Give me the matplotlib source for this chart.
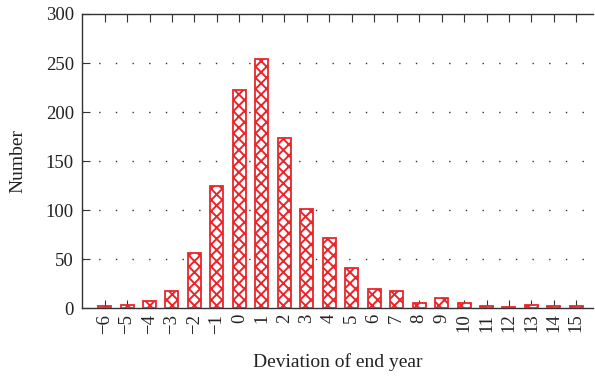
import matplotlib
matplotlib.use('Agg')
import matplotlib.pyplot as plt

# data
deviation = list(range(-6, 16))
counts = [2, 3, 7, 17, 56, 125, 222, 254, 174, 101, 71, 41, 19, 17, 5, 10, 5, 2, 1, 3, 2, 2]

plt.rcParams['font.family'] = ['Liberation Serif', 'DejaVu Serif']
plt.rcParams['hatch.color'] = '#e8262a'
plt.rcParams['hatch.linewidth'] = 1.4

fig = plt.figure(figsize=(5.95, 3.78), dpi=100)
ax = fig.add_axes([0.138, 0.185, 0.859, 0.778])

ax.bar(deviation, counts, width=0.58, facecolor='white', edgecolor='#e8262a',
       hatch='xxx', linewidth=1.3, zorder=3)

ax.set_xlim(-7, 15.75)
ax.set_ylim(0, 300)
ax.set_yticks([0, 50, 100, 150, 200, 250, 300])
ax.set_xticks(deviation)
ax.set_xticklabels([str(d).replace('-', '\u2212') for d in deviation], rotation=90)

# sparse dotted horizontal grid
for y in [50, 100, 150, 200, 250]:
    ax.axhline(y, color='#333333', linestyle=(0, (1, 11)), linewidth=1.0, zorder=1)

ax.spines['right'].set_visible(False)
for s in ['left', 'top', 'bottom']:
    ax.spines[s].set_color('#333333')
    ax.spines[s].set_linewidth(1.0)
ax.tick_params(axis='both', direction='in', length=6, labelsize=13.5, colors='#333333',
               labelcolor='#222222')
ax.tick_params(axis='x', top=True, pad=4)
ax.tick_params(axis='y', pad=6)

ax.set_xlabel('Deviation of end year', fontsize=14, labelpad=14, color='#222222')
ax.set_ylabel('Number', fontsize=14, labelpad=14, color='#222222')

fig.savefig('out.png', dpi=100)
